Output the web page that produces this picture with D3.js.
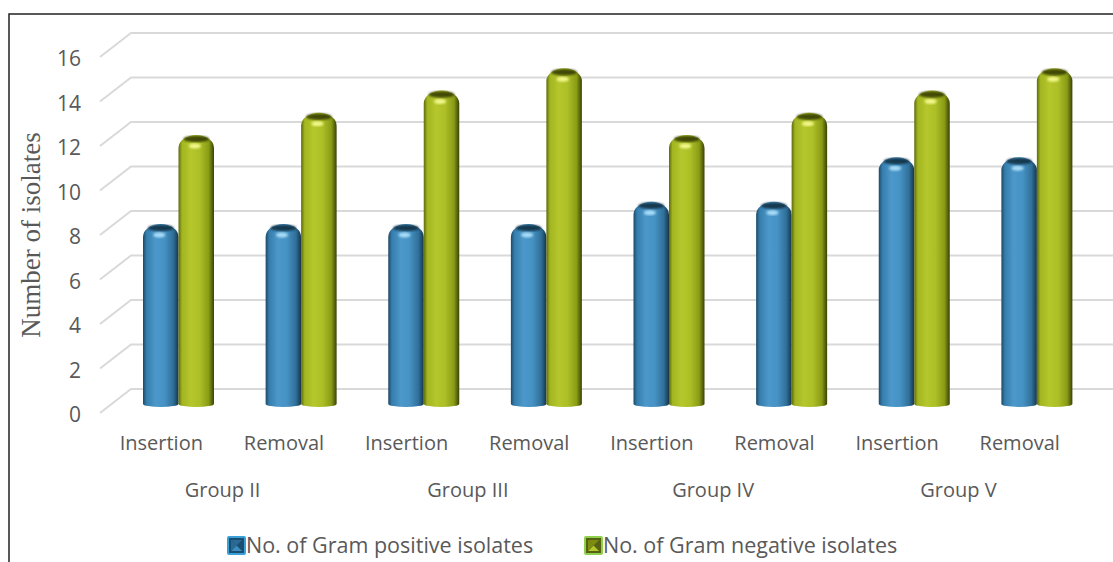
<!DOCTYPE html>
<html>
<head>
<meta charset="utf-8">
<script src="https://cdn.jsdelivr.net/npm/d3@7"></script>
<style>
  body { margin: 0; background: #fff; }
  svg { display: block; }
</style>
</head>
<body>
<div id="chart"></div>
<script>
// chart data
const categories = ['Insertion', 'Removal', 'Insertion', 'Removal', 'Insertion', 'Removal', 'Insertion', 'Removal'];
const groups = ['Group II', 'Group III', 'Group IV', 'Group V'];
const seriesNames = ['No. of Gram positive isolates', 'No. of Gram negative isolates'];
const gramPositive = [8, 8, 8, 8, 9, 9, 11, 11];
const gramNegative = [12, 13, 14, 15, 12, 13, 14, 15];
const yTicks = [0, 2, 4, 6, 8, 10, 12, 14, 16];

const W = 1113, H = 562;
const textColor = '#595959';

const svg = d3.select('#chart').append('svg')
  .attr('width', W)
  .attr('height', H);

const defs = svg.append('defs');

// cylinder gradients
function cylGradient(id, stops) {
  const g = defs.append('linearGradient').attr('id', id)
    .attr('x1', '0%').attr('x2', '100%').attr('y1', '0%').attr('y2', '0%');
  stops.forEach(s => g.append('stop').attr('offset', s[0]).attr('stop-color', s[1]));
}
cylGradient('gBlue', [['0%', '#1d4966'], ['10%', '#357dac'], ['35%', '#4c98ca'], ['60%', '#4692c4'], ['85%', '#30709a'], ['100%', '#173649']]);
cylGradient('gGreen', [['0%', '#5d6a0c'], ['10%', '#a3b520'], ['35%', '#b5c72c'], ['60%', '#acbf26'], ['85%', '#8a9b16'], ['100%', '#3a4206']]);

defs.append('filter').attr('id', 'blur2')
  .append('feGaussianBlur').attr('stdDeviation', 1.2);

// frame
svg.append('path')
  .attr('d', `M9,${H} L9,14 L${W},14`)
  .attr('fill', 'none')
  .attr('stroke', '#222')
  .attr('stroke-width', 1.5);

// scales
const y = d3.scaleLinear().domain([0, 16]).range([389, 33]);
const idx = d3.range(categories.length);
const x0 = d3.scaleBand().domain(idx).range([100, 1081]);
const x1 = d3.scaleBand().domain([0, 1]).range([0, 71]);
const barShift = 43;   // bars sit in front of the back wall
const barDepth = 13;

// gridlines (back wall + floor diagonal)
const grid = svg.append('g');
yTicks.forEach(t => {
  grid.append('path')
    .attr('d', `M100,${y(t) + 24} L131,${y(t)} L${W},${y(t)}`)
    .attr('fill', 'none')
    .attr('stroke', '#d9d9d9')
    .attr('stroke-width', 2);
});

// y tick labels
svg.append('g').selectAll('text')
  .data(yTicks)
  .join('text')
  .attr('x', 81)
  .attr('y', d => y(d) + 33)
  .attr('text-anchor', 'end')
  .attr('font-family', 'Open Sans, sans-serif')
  .attr('font-size', 21)
  .attr('fill', textColor)
  .text(d => d);

// y axis title
svg.append('text')
  .attr('transform', 'translate(40,235) rotate(-90)')
  .attr('text-anchor', 'middle')
  .attr('font-family', 'Liberation Serif, serif')
  .attr('font-size', 27)
  .attr('fill', textColor)
  .text('Number of isolates');

// bars
const fills = ['url(#gBlue)', 'url(#gGreen)'];
const topDark = ['#10293b', '#2e3504'];
const hilite = ['#a9dcf7', '#f2f78a'];
const barData = [];
idx.forEach(i => {
  [gramPositive[i], gramNegative[i]].forEach((v, s) => barData.push({ i, s, v }));
});

const bars = svg.append('g').selectAll('g')
  .data(barData)
  .join('g');

bars.each(function (d) {
  const g = d3.select(this);
  const w = x1.bandwidth();
  const bx = x0(d.i) + barShift + x1(d.s);
  const yT = y(d.v) + barDepth;
  const yB = y(0) + 15;
  const r = w / 2, ry = 13;
  g.append('path')
    .attr('d', `M${bx},${yT + ry} A${r},${ry} 0 0 1 ${bx + w},${yT + ry} L${bx + w},${yB} A${r},3 0 0 1 ${bx},${yB} Z`)
    .attr('fill', fills[d.s]);
  // dark top rim
  g.append('ellipse')
    .attr('cx', bx + w / 2).attr('cy', yT + 4)
    .attr('rx', w * 0.36).attr('ry', 3.2)
    .attr('fill', topDark[d.s])
    .attr('opacity', 0.85)
    .attr('filter', 'url(#blur2)');
  // highlight
  g.append('ellipse')
    .attr('cx', bx + w * 0.46).attr('cy', yT + 11)
    .attr('rx', 6).attr('ry', 2.6)
    .attr('fill', hilite[d.s])
    .attr('filter', 'url(#blur2)');
});

// category labels
svg.append('g').selectAll('text')
  .data(idx)
  .join('text')
  .attr('x', d => x0(d) + x0.bandwidth() / 2)
  .attr('y', 450)
  .attr('text-anchor', 'middle')
  .attr('font-family', 'Open Sans, sans-serif')
  .attr('font-size', 20)
  .attr('fill', textColor)
  .text(d => categories[d]);

// group labels
svg.append('g').selectAll('text')
  .data(groups)
  .join('text')
  .attr('x', (d, i) => x0(i * 2) + x0.bandwidth())
  .attr('y', 497)
  .attr('text-anchor', 'middle')
  .attr('font-family', 'Open Sans, sans-serif')
  .attr('font-size', 20)
  .attr('fill', textColor)
  .text(d => d);

// legend
const legendX = [228, 585];
const legFill = [['#1b4f72', '#3d8cbf', '#2a6a95'], ['#556214', '#b5c82a', '#7d8d12']];
const legBorder = ['#3aa0d8', '#8fd14f'];
const legend = svg.append('g').selectAll('g')
  .data(seriesNames)
  .join('g')
  .attr('transform', (d, i) => `translate(${legendX[i]},537)`);

legend.each(function (d, i) {
  const g = d3.select(this);
  const s = 17;
  g.append('rect').attr('x', -1).attr('y', -1).attr('width', s + 2).attr('height', s + 2)
    .attr('rx', 2).attr('fill', legBorder[i]);
  g.append('rect').attr('x', 1).attr('y', 1).attr('width', s - 2).attr('height', s - 2)
    .attr('fill', legFill[i][0]);
  // pyramid facets
  const c = s / 2;
  g.append('path').attr('d', `M3,3 L${s - 3},3 L${c},${c} Z`).attr('fill', legFill[i][2]);
  g.append('path').attr('d', `M3,${s - 3} L${s - 3},${s - 3} L${c},${c} Z`).attr('fill', legFill[i][1]);
  g.append('path').attr('d', `M3,3 L3,${s - 3} L${c},${c} Z`).attr('fill', legFill[i][2]);
  g.append('text')
    .attr('x', s + 1)
    .attr('y', 16)
    .attr('font-family', 'Open Sans, sans-serif')
    .attr('font-size', 21.5)
    .attr('fill', textColor)
    .text(d);
});
</script>
</body>
</html>
